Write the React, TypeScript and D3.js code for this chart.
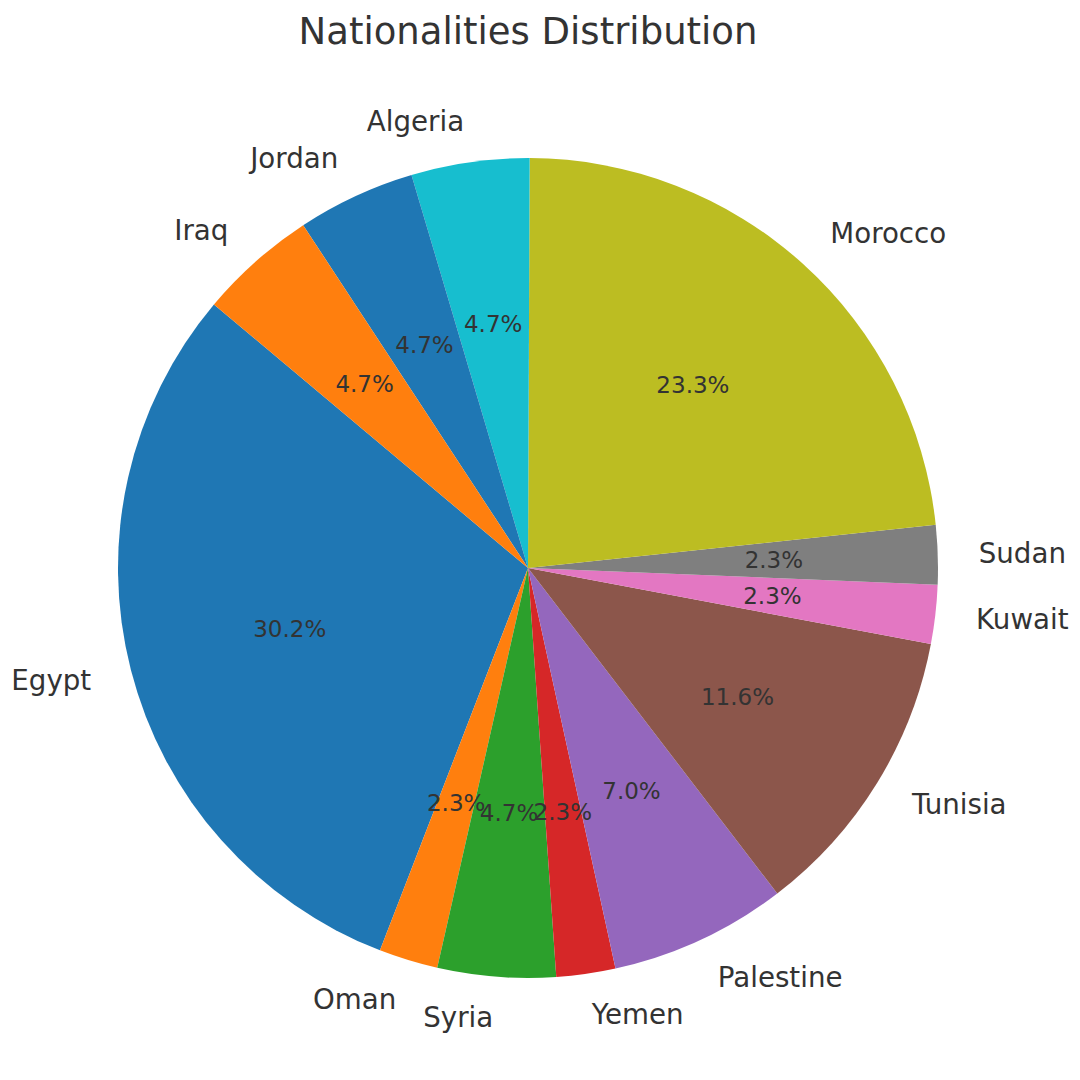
import React from "react";
import * as d3 from "d3";

const categories = ["Egypt", "Oman", "Syria", "Yemen", "Palestine", "Tunisia", "Kuwait", "Sudan", "Morocco", "Algeria", "Jordan", "Iraq"];
const counts = [13, 1, 2, 1, 3, 5, 1, 1, 10, 2, 2, 2];
const colors = ["#1f77b4", "#ff7f0e", "#2ca02c", "#d62728", "#9467bd", "#8c564b", "#e377c2", "#7f7f7f", "#bcbd22", "#17becf", "#1f77b4", "#ff7f0e"];
const title = "Nationalities Distribution";

const START_DEG = 140;

export default function App() {
  const W = 1080, H = 1080;
  const cx = 528, cy = 568, R = 410;
  const total = d3.sum(counts);
  const font = "'DejaVu Sans', sans-serif";
  const textColor = "#333333";

  let acc = 0;
  const slices = counts.map((v, i) => {
    const a0 = START_DEG + (acc / total) * 360;
    acc += v;
    const a1 = START_DEG + (acc / total) * 360;
    return { i, v, a0, a1 };
  });

  const toD3 = (deg: number) => ((90 - deg) * Math.PI) / 180;
  const arcGen = d3.arc<any>().innerRadius(0).outerRadius(R);

  return (
    <svg width={W} height={H} style={{ position: "absolute", left: 0, top: 0, background: "#fff" }}>
      <rect width={W} height={H} fill="#ffffff" />
      <text x={528} y={31} fontFamily={font} fontSize={37} fill={textColor} textAnchor="middle" dominantBaseline="central">
        {title}
      </text>
      <g transform={`translate(${cx},${cy})`}>
        {slices.map((s) => (
          <path
            key={"p" + s.i}
            d={arcGen({ startAngle: toD3(s.a1), endAngle: toD3(s.a0) }) as string}
            fill={colors[s.i]}
          />
        ))}
        {slices.map((s) => {
          const mid = ((s.a0 + s.a1) / 2) * Math.PI / 180;
          const lx = 1.1 * R * Math.cos(mid);
          const ly = -1.1 * R * Math.sin(mid);
          const px = 0.6 * R * Math.cos(mid);
          const py = -0.6 * R * Math.sin(mid);
          const pct = ((s.v / total) * 100).toFixed(1) + "%";
          return (
            <g key={"t" + s.i}>
              <text x={lx} y={ly} fontFamily={font} fontSize={27.7} fill={textColor}
                textAnchor={lx > 0 ? "start" : "end"} dominantBaseline="central">
                {categories[s.i]}
              </text>
              <text x={px} y={py} fontFamily={font} fontSize={23} fill={textColor}
                textAnchor="middle" dominantBaseline="central">
                {pct}
              </text>
            </g>
          );
        })}
      </g>
    </svg>
  );
}
